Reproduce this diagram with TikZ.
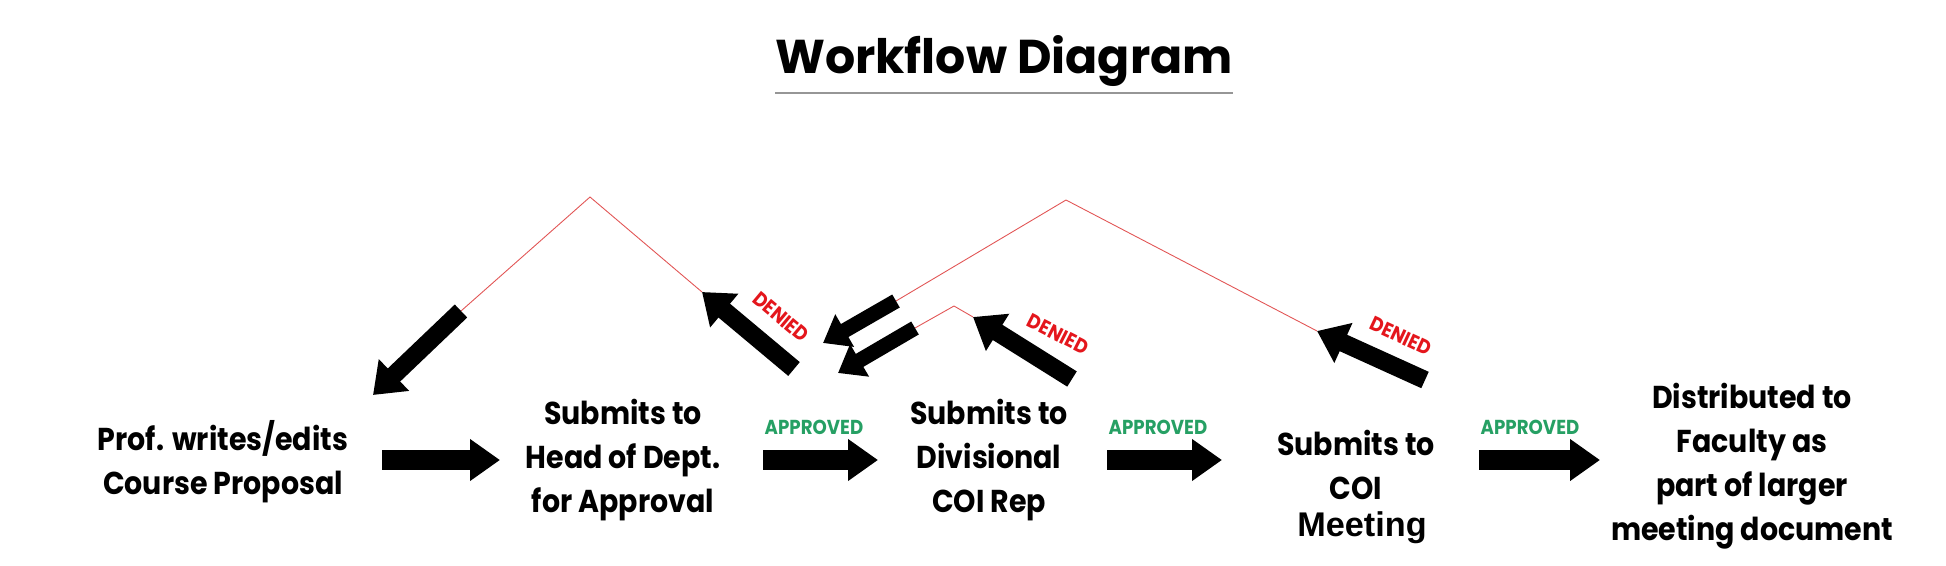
\documentclass[tikz,border=0pt]{standalone}
\usepackage{fontspec}
\setmainfont{Poppins}
\newfontfamily\stepfont{Poppins}[FakeStretch=0.9]
\newfontfamily\arialfont{Liberation Sans}
\usetikzlibrary{arrows.meta}
\definecolor{apprgrn} {RGB}{ 38,160,100}
\definecolor{denyred} {RGB}{228, 22, 28}
\definecolor{loopred} {RGB}{226, 84, 84}
\definecolor{rulegray}{RGB}{150,150,150}
\tikzset{
  flow arrow/.style = {line width=0.4cm, -{Triangle[length=0.6cm, width=0.8cm]}},
  back arrow/.style = {line width=0.36cm, -{Triangle[length=0.58cm, width=0.84cm]}},
  thin back/.style  = {line width=0.3cm, -{Triangle[length=0.5cm, width=0.72cm]}},
  loop line/.style  = {loopred, line width=0.5pt},
  step text/.style  = {align=center, inner sep=0pt,
                       font=\stepfont\bfseries\fontsize{18}{25}\selectfont},
  ok label/.style   = {apprgrn, inner sep=0pt,
                       font=\stepfont\bfseries\fontsize{11.5}{13}\selectfont},
  deny label/.style = {denyred, inner sep=0pt,
                       font=\stepfont\bfseries\fontsize{11.5}{13}\selectfont},
}

\begin{document}
\begin{tikzpicture}[x=0.02cm, y=-0.02cm]

  % canvas (pixel grid, y grows downwards)
  \fill[white] (0,0) rectangle (1946,565);
  \useasboundingbox (0,0) rectangle (1946,565);

  % ── title ─────────────────────────────────────────────────────────────────
  \node[font=\bfseries\fontsize{27}{30}\selectfont, inner sep=0pt]
    (title) at (1004,61) {Workflow Diagram};
  \coordinate (ruleL) at (775,93);
  \coordinate (ruleR) at (1233,93);
  \draw[rulegray, line width=1.2pt] (ruleL) -- (ruleR);

  % ── steps ─────────────────────────────────────────────────────────────────
  \node[step text] (prof) at (223,462) {Prof. writes/edits\\Course Proposal};
  \node[step text] (head) at (623,460) {Submits to\\Head of Dept.\\for Approval};
  \node[step text] (divi) at (989,460) {Submits to\\Divisional\\COI Rep};
  \node[step text] (coi)  at (1356,465) {Submits to\\COI};
  \node[font=\arialfont\bfseries\fontsize{19.5}{22}\selectfont, inner sep=0pt]
    (meet) at (1362,528) {Meeting};
  \node[step text] (dist) at (1752,466)
    {Distributed to\\Faculty as\\part of larger\\meeting document};

  % ── forward arrows, APPROVED above all but the first ──────────────────────
  \foreach \n/\xa/\xb in {1/382/500, 2/763/878, 3/1107/1222, 4/1479/1600}{
    \coordinate (h\n s) at (\xa,460);
    \coordinate (h\n e) at (\xb,460);
    \draw[flow arrow] (h\n s) -- (h\n e);
  }
  \foreach \n/\x in {2/814, 3/1158, 4/1530}{
    \node[ok label] (ok\n) at (\x,427) {APPROVED};
  }

  % ── denied loops ──────────────────────────────────────────────────────────
  % head of dept. -> back to prof.
  \coordinate (d1s) at (794,369);
  \coordinate (d1e) at (702,292);
  \coordinate (p1)  at (590,197);
  \coordinate (r1s) at (461,311);
  \coordinate (r1e) at (373,395);
  \draw[back arrow] (d1s) -- (d1e);
  \draw[loop line] (d1e) -- (p1) -- (r1s);
  \draw[back arrow] (r1s) -- (r1e);
  \node[deny label, rotate=-40] (deny1) at (781,317) {DENIED};

  % divisional rep -> back to head of dept.
  \coordinate (d2s) at (1072,379);
  \coordinate (d2e) at (973,317);
  \coordinate (p2)  at (954,306);
  \coordinate (r2s) at (915,328);
  \coordinate (r2e) at (838,373);
  \draw[back arrow] (d2s) -- (d2e);
  \draw[loop line] (d2e) -- (p2) -- (r2s);
  \draw[thin back] (r2s) -- (r2e);
  \node[deny label, rotate=-27] (deny2) at (1058,334) {DENIED};

  % COI meeting -> back to head of dept.
  \coordinate (d3s) at (1425,380);
  \coordinate (d3e) at (1317,331);
  \coordinate (p3)  at (1066,200);
  \coordinate (r3s) at (896,301);
  \coordinate (r3e) at (823,343);
  \draw[back arrow] (d3s) -- (d3e);
  \draw[loop line] (d3e) -- (p3) -- (r3s);
  \draw[thin back] (r3s) -- (r3e);
  \node[deny label, rotate=-25] (deny3) at (1401,336) {DENIED};

\end{tikzpicture}
\end{document}
